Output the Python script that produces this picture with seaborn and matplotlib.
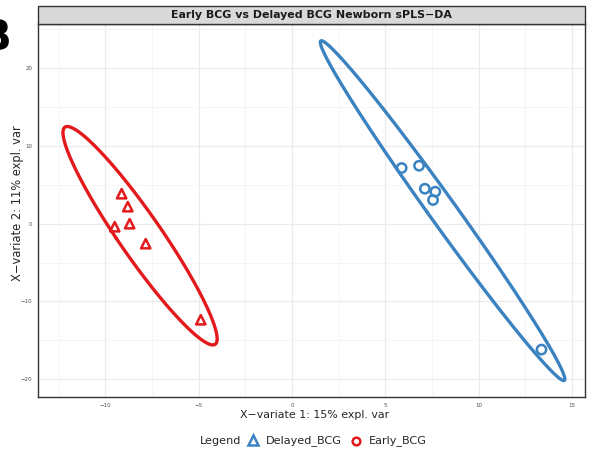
import numpy as np
import pandas as pd
import matplotlib
matplotlib.use("Agg")
import matplotlib.pyplot as plt
import seaborn as sns
from matplotlib.lines import Line2D
from matplotlib.patches import Rectangle

# ---- data ----
early_x = [-9.12, -8.79, -8.69, -9.49, -7.83, -4.88]
early_y = [3.86, 2.19, 0.0, -0.39, -2.57, -12.36]
delayed_x = [5.88, 6.81, 7.12, 7.68, 7.56, 13.37]
delayed_y = [7.17, 7.46, 4.50, 4.12, 3.05, -16.20]
groups = ["Early_BCG", "Delayed_BCG"]
legend_labels = ["Delayed_BCG", "Early_BCG"]
x_ticks = [-10, -5, 0, 5, 10, 15]
y_ticks = [-20, -10, 0, 10, 20]

RED = "#E3191C"
BLUE = "#3A82C0"

df = pd.DataFrame({
    "x": early_x + delayed_x,
    "y": early_y + delayed_y,
    "group": [groups[0]] * len(early_x) + [groups[1]] * len(delayed_x),
})

def conf_ellipse(xs, ys, level=0.95, n=200):
    pts = np.column_stack([xs, ys])
    c = pts.mean(axis=0)
    cov = np.cov(pts, rowvar=False)
    r = np.sqrt(-2 * np.log(1 - level))
    vals, vecs = np.linalg.eigh(cov)
    t = np.linspace(0, 2 * np.pi, n)
    circ = np.vstack([np.cos(t), np.sin(t)])
    e = vecs @ (np.sqrt(vals)[:, None] * circ) * r
    return pd.DataFrame({"x": e[0] + c[0], "y": e[1] + c[1]})

W, H = 591, 451
fig = plt.figure(figsize=(W / 100, H / 100), dpi=100)
sns.set_style("white")
L, R, T, B = 38, 585, 24, 397
ax = fig.add_axes([L / W, 1 - B / H, (R - L) / W, (B - T) / H])

ax.set_xlim(-13.6, 15.7)
ax.set_ylim(-22.3, 25.7)
ax.set_xticks(x_ticks)
ax.set_yticks(y_ticks)
ax.set_xticks([-12.5, -7.5, -2.5, 2.5, 7.5, 12.5], minor=True)
ax.set_yticks([-15, -5, 5, 15, 25], minor=True)
ax.grid(True, which="major", color="#EBEBEB", linewidth=0.9)
ax.grid(True, which="minor", color="#F2F2F2", linewidth=0.5)
ax.set_axisbelow(True)
ax.tick_params(which="minor", length=0)
ax.tick_params(which="major", length=2, width=0.5, color="#333333",
               labelsize=4, labelcolor="#4D4D4D", pad=2)
for s in ax.spines.values():
    s.set_color("#333333")
    s.set_linewidth(1.0)

for xs, ys, col in [(early_x, early_y, RED), (delayed_x, delayed_y, BLUE)]:
    ed = conf_ellipse(xs, ys)
    sns.lineplot(data=ed, x="x", y="y", sort=False, estimator=None,
                 color=col, linewidth=2.4, ax=ax, legend=False)

sns.scatterplot(data=df, x="x", y="y", hue="group", style="group",
                hue_order=groups, style_order=groups,
                palette={"Early_BCG": RED, "Delayed_BCG": BLUE},
                markers={"Early_BCG": "^", "Delayed_BCG": "o"},
                s=45, facecolor="none", linewidth=1.8, ax=ax, legend=False)
for coll in ax.collections:
    fc = coll.get_facecolors()
    coll.set_edgecolors(fc)
    coll.set_facecolors("none")

ax.set_xlabel("")
ax.set_ylabel("")
fig.text(315 / W, 1 - 415 / H, "X\u2212variate 1: 15% expl. var",
         ha="center", va="center", fontsize=7.9)
fig.text(18 / W, 1 - 203 / H, "X\u2212variate 2: 11% expl. var", rotation=90,
         ha="center", va="center", fontsize=8.3)

# strip
strip = Rectangle((L / W, 1 - T / H), (R - L) / W, 18 / H, transform=fig.transFigure,
                  facecolor="#D9D9D9", edgecolor="#333333", linewidth=1.0)
fig.add_artist(strip)
fig.text((L + R) / 2 / W, 1 - 15 / H, "Early BCG vs Delayed BCG Newborn sPLS\u2212DA",
         ha="center", va="center", fontsize=7.9, fontweight="bold", color="#1A1A1A")

# panel letter
fig.text(-0.035, 1 - 38 / H, "B", ha="left", va="center", fontsize=30,
         fontweight="bold", color="black")

# legend (manual, inline title)
ly = 1 - 441 / H
fs = 8.1
fig.text(200 / W, ly, "Legend", ha="left", va="center", fontsize=fs)
fig.add_artist(Line2D([253 / W], [ly + 0.002], transform=fig.transFigure, marker="^",
                      markersize=6.5, markerfacecolor="none", markeredgecolor=BLUE,
                      markeredgewidth=1.8, linestyle="none"))
fig.text(266 / W, ly, legend_labels[0], ha="left", va="center", fontsize=fs)
fig.add_artist(Line2D([356 / W], [ly], transform=fig.transFigure, marker="o",
                      markersize=5.5, markerfacecolor="none", markeredgecolor=RED,
                      markeredgewidth=1.8, linestyle="none"))
fig.text(369 / W, ly, legend_labels[1], ha="left", va="center", fontsize=fs)

fig.savefig("out.png", dpi=100)
